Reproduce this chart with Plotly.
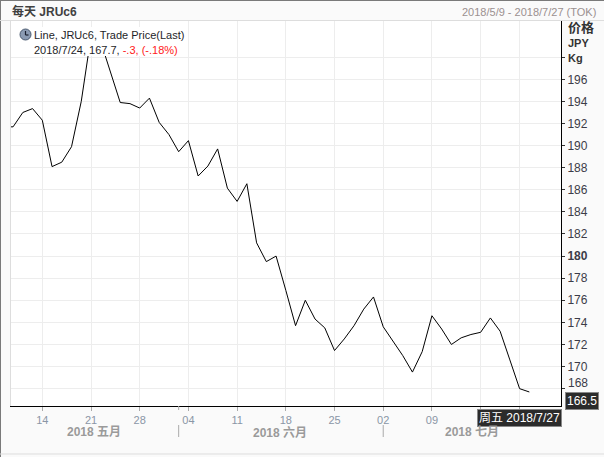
import plotly.graph_objects as go

# ---------------- data ----------------
dates = [
    "2018-05-08", "2018-05-09", "2018-05-10", "2018-05-11",
    "2018-05-14", "2018-05-15", "2018-05-16", "2018-05-17", "2018-05-18",
    "2018-05-21", "2018-05-22", "2018-05-23", "2018-05-24", "2018-05-25",
    "2018-05-28", "2018-05-29", "2018-05-30", "2018-05-31", "2018-06-01",
    "2018-06-04", "2018-06-05", "2018-06-06", "2018-06-07", "2018-06-08",
    "2018-06-11", "2018-06-12", "2018-06-13", "2018-06-14", "2018-06-15",
    "2018-06-18", "2018-06-19", "2018-06-20", "2018-06-21", "2018-06-22",
    "2018-06-25", "2018-06-26", "2018-06-27", "2018-06-28", "2018-06-29",
    "2018-07-02", "2018-07-03", "2018-07-04", "2018-07-05", "2018-07-06",
    "2018-07-09", "2018-07-10", "2018-07-11", "2018-07-12", "2018-07-13",
    "2018-07-17", "2018-07-18", "2018-07-19", "2018-07-20",
    "2018-07-23", "2018-07-24",
]
prices = [
    191.7, 191.7, 193.0, 193.35,
    192.3, 188.1, 188.5, 189.9, 194.0,
    199.9, 199.4, 196.7, 193.9, 193.8,
    193.4, 194.3, 192.1, 191.0, 189.45,
    190.45, 187.25, 188.15, 189.7, 186.15,
    184.95, 186.55, 181.2, 179.5, 180.0,
    176.9, 173.7, 176.0, 174.3, 173.5,
    171.45, 172.5, 173.7, 175.2, 176.3,
    173.6, 172.3, 171.0, 169.5, 171.35,
    174.6, 173.4, 172.0, 172.6, 172.9,
    173.1, 174.4, 173.2, 170.6,
    168.0, 167.7,
]

x_tick_dates = ["2018-05-14", "2018-05-21", "2018-05-28", "2018-06-04",
                "2018-06-11", "2018-06-18", "2018-06-25", "2018-07-02",
                "2018-07-09", "2018-07-17", "2018-07-23"]
x_tick_labels = ["14", "21", "28", "04", "11", "18", "25", "02", "09", "", ""]

y_tick_vals = [168, 170, 172, 174, 176, 178, 180, 182, 184, 186, 188, 190,
               192, 194, 196, 198]
y_tick_labels = ["", "170", "172", "174", "176", "178", "<b>180</b>", "182",
                 "184", "186", "188", "190", "192", "194", "196", ""]
y_low_label = "168"

month_labels = ["2018 五月", "2018 六月", "2018 七月"]
month_starts = ["2018-06-01", "2018-07-02"]

title_left = "每天 JRUc6"
title_right = "2018/5/9 - 2018/7/27 (TOK)"
legend_line1 = "Line, JRUc6, Trade Price(Last)"
legend_line2_a = "2018/7/24, 167.7, "
legend_line2_b = "-.3, (-.18%)"
last_price_label = "166.5"
cursor_label = "周五 2018/7/27"

# ---------------- layout geometry ----------------
W, H = 604, 457
L, R, T, B = 10, 43, 20, 51
PW, PH = W - L - R, H - T - B


def px(x):
    return (x - L) / PW


def py(y):
    return (H - B - y) / PH


FONT = "Liberation Sans, Arial, Noto Sans CJK SC, sans-serif"

fig = go.Figure()
fig.add_trace(go.Scatter(
    x=dates, y=prices, mode="lines",
    line=dict(color="black", width=1),
    hoverinfo="skip", showlegend=False,
))

fig.update_layout(
    width=W, height=H,
    margin=dict(l=L, r=R, t=T, b=B),
    paper_bgcolor="#fafafa",
    plot_bgcolor="#ffffff",
    font=dict(family=FONT, size=11, color="#333333"),
    showlegend=False,
    xaxis=dict(
        type="date",
        range=["2018-05-08 16:25", "2018-07-27 06:00"],
        rangebreaks=[dict(bounds=["sat", "mon"]), dict(values=["2018-07-16"])],
        tickmode="array", tickvals=x_tick_dates, ticktext=x_tick_labels,
        ticks="outside", ticklen=4, tickcolor="#aaaaaa",
        tickfont=dict(family=FONT, size=11, color="#8a96a6"),
        showgrid=True, gridcolor="#ededed", gridwidth=1,
        showline=True, linecolor="black", linewidth=1,
        zeroline=False, fixedrange=True,
    ),
    yaxis=dict(
        side="right",
        range=[166.43, 201.37],
        tickmode="array", tickvals=y_tick_vals, ticktext=y_tick_labels,
        ticks="outside", ticklen=3, tickcolor="#333333",
        tickfont=dict(family=FONT, size=12, color="#3c3c48"),
        showgrid=True, gridcolor="#ededed", gridwidth=1,
        showline=True, linecolor="black", linewidth=1,
        zeroline=False, fixedrange=True,
    ),
)

shapes = []
# frame lines
shapes.append(dict(type="line", xref="paper", yref="paper",
                   x0=px(0), x1=px(W), y0=py(0.5), y1=py(0.5),
                   line=dict(color="#7a7a7a", width=1)))
shapes.append(dict(type="line", xref="paper", yref="paper",
                   x0=px(0.5), x1=px(0.5), y0=py(H), y1=py(0),
                   line=dict(color="#7a7a7a", width=1)))
shapes.append(dict(type="line", xref="paper", yref="paper",
                   x0=px(0), x1=px(W), y0=py(454), y1=py(454),
                   line=dict(color="#dddddd", width=1)))
shapes.append(dict(type="line", xref="paper", yref="paper",
                   x0=px(0), x1=px(W), y0=py(20.5), y1=py(20.5),
                   line=dict(color="#dddddd", width=1)))
shapes.append(dict(type="line", xref="paper", yref="paper",
                   x0=px(10.5), x1=px(10.5), y0=py(406), y1=py(20.5),
                   line=dict(color="#dddddd", width=1)))
# legend background (covers the line as in the reference)
shapes.append(dict(type="rect", xref="paper", yref="paper", layer="above",
                   x0=px(17), x1=px(188), y0=py(56), y1=py(27),
                   fillcolor="white", line=dict(width=0)))
# legend clock icon
shapes.append(dict(type="circle", xref="paper", yref="paper", layer="above",
                   x0=px(20), x1=px(31), y0=py(40), y1=py(29),
                   fillcolor="#8b9bb3", line=dict(color="#4a5a70", width=1)))
shapes.append(dict(type="line", xref="paper", yref="paper", layer="above",
                   x0=px(25.5), x1=px(25.5), y0=py(35), y1=py(31),
                   line=dict(color="#1a2030", width=1.2)))
shapes.append(dict(type="line", xref="paper", yref="paper", layer="above",
                   x0=px(25.5), x1=px(28.5), y0=py(35), y1=py(35),
                   line=dict(color="#1a2030", width=1.2)))
# month separators and boundary tick
for d in month_starts:
    shapes.append(dict(type="line", xref="x", yref="paper",
                       x0=d, x1=d, y0=py(425), y1=py(437),
                       line=dict(color="#aaaaaa", width=1)))
shapes.append(dict(type="line", xref="x", yref="paper",
                   x0=month_starts[0], x1=month_starts[0], y0=py(406), y1=py(410),
                   line=dict(color="#aaaaaa", width=1)))
fig.update_layout(shapes=shapes)

ann = []
ann.append(dict(xref="paper", yref="paper", x=px(10), y=py(12),
                xanchor="left", yanchor="middle", showarrow=False,
                text="<b>" + title_left + "</b>",
                font=dict(family=FONT, size=12, color="#404040")))
ann.append(dict(xref="paper", yref="paper", x=px(598), y=py(12),
                xanchor="right", yanchor="middle", showarrow=False,
                text=title_right,
                font=dict(family=FONT, size=11, color="#9a9090")))
ann.append(dict(xref="paper", yref="paper", x=px(32), y=py(34.5),
                xanchor="left", yanchor="middle", showarrow=False,
                text=legend_line1,
                font=dict(family=FONT, size=11, color="#1e1e28")))
ann.append(dict(xref="paper", yref="paper", x=px(32), y=py(49.5),
                xanchor="left", yanchor="middle", showarrow=False,
                text=legend_line2_a + "<span style='color:#ff2020'>" + legend_line2_b + "</span>",
                font=dict(family=FONT, size=11, color="#1e1e28")))
ann.append(dict(xref="paper", yref="paper", x=px(566), y=py(28),
                xanchor="left", yanchor="middle", showarrow=False,
                text="<b>价格</b>",
                font=dict(family=FONT, size=13, color="#333333")))
ann.append(dict(xref="paper", yref="paper", x=px(566), y=py(43),
                xanchor="left", yanchor="middle", showarrow=False,
                text="<b>JPY</b>",
                font=dict(family=FONT, size=11, color="#333333")))
ann.append(dict(xref="paper", yref="paper", x=px(566), y=py(58),
                xanchor="left", yanchor="middle", showarrow=False,
                text="<b>Kg</b>",
                font=dict(family=FONT, size=11, color="#333333")))
ann.append(dict(xref="paper", yref="paper", x=px(566), y=py(383),
                xanchor="left", yanchor="middle", showarrow=False,
                text=y_low_label,
                font=dict(family=FONT, size=12, color="#3c3c48")))
ann.append(dict(xref="paper", yref="paper", x=px(581.5), y=py(400.5),
                xanchor="center", yanchor="middle", showarrow=False,
                text=last_price_label, bgcolor="#2b2b2b", bordercolor="#888888",
                borderwidth=1, borderpad=1,
                font=dict(family=FONT, size=12, color="white")))
ann.append(dict(xref="paper", yref="paper", x=px(519.5), y=py(417.5),
                xanchor="center", yanchor="middle", showarrow=False,
                text=cursor_label, bgcolor="#2b2b2b", bordercolor="#888888",
                borderwidth=1, borderpad=1,
                font=dict(family=FONT, size=12, color="white")))
for lbl, cx in zip(month_labels, [94, 280, 472]):
    ann.append(dict(xref="paper", yref="paper", x=px(cx), y=py(432),
                    xanchor="center", yanchor="middle", showarrow=False,
                    text="<b>" + lbl + "</b>",
                    font=dict(family=FONT, size=12, color="#9a9a9a")))
fig.update_layout(annotations=ann)

fig.write_html(
    "out.html",
    config={"displayModeBar": False},
    post_script="document.body.style.margin='0';document.body.style.padding='0';",
)
